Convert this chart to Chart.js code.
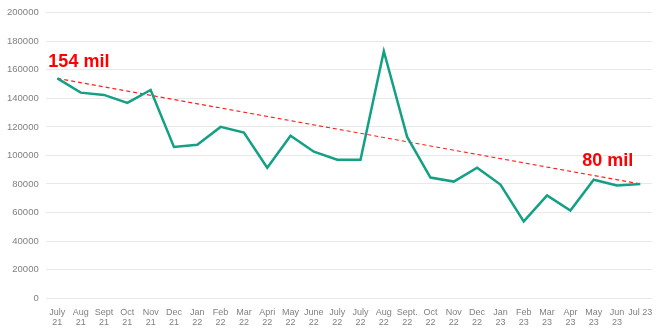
<!DOCTYPE html>
<html><head><meta charset="utf-8">
<script src="https://cdn.jsdelivr.net/npm/chart.js@4/dist/chart.umd.min.js"></script>
<style>html,body{margin:0;padding:0;background:#fff}#wrap{width:659px;height:336px}</style>
</head><body><div id="wrap"><canvas id="c" width="659" height="336"></canvas></div>
<script>
const categories = [["July","21"],["Aug","21"],["Sept","21"],["Oct","21"],["Nov","21"],["Dec","21"],["Jan","22"],["Feb","22"],["Mar","22"],["Apri","22"],["May","22"],["June","22"],["July","22"],["July","22"],["Aug","22"],["Sept.","22"],["Oct","22"],["Nov","22"],["Dec","22"],["Jan","23"],["Feb","23"],["Mar","23"],["Apr","23"],["May","23"],["Jun","23"],"Jul 23"];
const values = [154000,144000,142400,136800,145900,106000,107500,120000,116000,91400,113800,102600,97000,97000,173000,113000,84500,81700,91400,79600,53800,72000,61400,83000,79000,80000];
const trendStart = 154000;
const trendEnd = 80000;
const trendValues = values.map((v,i)=> i===0 ? trendStart : (i===values.length-1 ? trendEnd : null));
const annotations = [{index:0, value:trendStart, text:"154 mil"},{index:values.length-1, value:trendEnd, text:"80 mil"}];

const labelPlugin = {
  id:'labels',
  afterDatasetsDraw(chart){
    const ctx = chart.ctx, x = chart.scales.x, y = chart.scales.y;
    ctx.save();
    ctx.fillStyle = '#ff0000';
    ctx.font = 'bold 18px "Liberation Sans", Arial, sans-serif';
    ctx.textBaseline = 'alphabetic';
    annotations.forEach((a,k)=>{
      const px = x.getPixelForValue(a.index), py = y.getPixelForValue(a.value);
      if(k===0){ ctx.textAlign='left'; ctx.fillText(a.text, px-9, py-11); }
      else { ctx.textAlign='right'; ctx.fillText(a.text, px-7, py-18); }
    });
    ctx.restore();
  }
};

new Chart(document.getElementById('c'), {
  type:'line',
  data:{labels:categories, datasets:[
    {data:values, borderColor:'#14a085', borderWidth:2.5, pointRadius:0, tension:0, fill:false},
    {data:trendValues, borderColor:'#ff2020', borderWidth:1.2, borderDash:[4,3], pointRadius:0, spanGaps:true, fill:false}
  ]},
  options:{
    responsive:false, animation:false, devicePixelRatio:1,
    layout:{padding:{top:5,right:7,left:0,bottom:8}},
    plugins:{legend:{display:false}, tooltip:{enabled:false}},
    scales:{
      x:{offset:true, grid:{display:false}, border:{display:false},
         ticks:{color:'#808080', font:{size:9, lineHeight:1.1, family:'"Liberation Sans", Arial, sans-serif'}, maxRotation:0, autoSkip:false, padding:1}},
      y:{min:0, max:200000, border:{display:false},
         grid:{color:'#e8e8e8', lineWidth:1, drawTicks:false},
         ticks:{stepSize:20000, color:'#808080', padding:7, callback:(v)=>String(v), font:{size:9.5, family:'"Liberation Sans", Arial, sans-serif'}}}
    }
  },
  plugins:[labelPlugin]
});
</script></body></html>
